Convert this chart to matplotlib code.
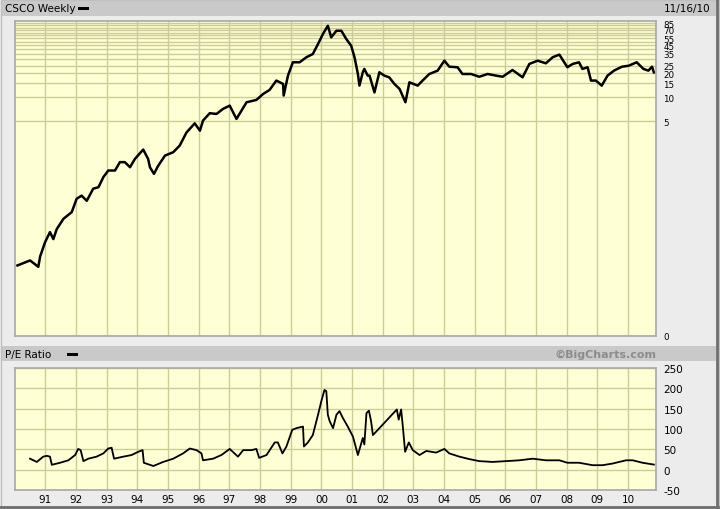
import matplotlib
matplotlib.use("Agg")
import matplotlib.pyplot as plt
from matplotlib.patches import Rectangle
from matplotlib.ticker import NullLocator

W, H = 720, 510

# weekly close (split adjusted)
price_years = [1990.09, 1990.50, 1990.77, 1990.83, 1990.99, 1991.15, 1991.26, 1991.37, 1991.59, 1991.86,
               1992.02, 1992.18, 1992.35, 1992.56, 1992.73, 1992.89, 1993.05, 1993.27, 1993.43, 1993.59,
               1993.76, 1993.92, 1994.19, 1994.35, 1994.41, 1994.54, 1994.68, 1994.90, 1995.17, 1995.38,
               1995.60, 1995.87, 1996.04, 1996.14, 1996.36, 1996.58, 1996.79, 1997.01, 1997.23, 1997.56,
               1997.88, 1998.10, 1998.31, 1998.53, 1998.75, 1998.77, 1998.91, 1999.07, 1999.29, 1999.51,
               1999.72, 1999.89, 2000.05, 2000.21, 2000.32, 2000.49, 2000.65, 2000.81, 2000.97, 2001.08,
               2001.19, 2001.24, 2001.35, 2001.40, 2001.51, 2001.57, 2001.73, 2001.89, 2002.05, 2002.21,
               2002.38, 2002.55, 2002.74, 2002.87, 2003.14, 2003.30, 2003.52, 2003.79, 2004.01, 2004.17,
               2004.44, 2004.60, 2004.88, 2005.15, 2005.42, 2005.69, 2005.91, 2006.23, 2006.56, 2006.78,
               2007.05, 2007.32, 2007.54, 2007.76, 2008.02, 2008.19, 2008.40, 2008.51, 2008.68, 2008.79,
               2008.95, 2009.14, 2009.33, 2009.54, 2009.80, 2010.02, 2010.28, 2010.50, 2010.66, 2010.78,
               2010.84]
price_values = [0.077, 0.089, 0.074, 0.100, 0.151, 0.202, 0.165, 0.220, 0.297, 0.360,
                0.530, 0.580, 0.500, 0.710, 0.740, 0.990, 1.20, 1.20, 1.53, 1.53,
                1.32, 1.68, 2.20, 1.68, 1.32, 1.09, 1.38, 1.85, 2.04, 2.47,
                3.60, 4.70, 3.80, 5.09, 6.30, 6.17, 7.13, 7.85, 5.34, 8.65,
                9.25, 11.0, 12.35, 16.2, 14.7, 10.5, 18.7, 27.5, 27.5, 31.8,
                34.9, 46.7, 62.3, 79.2, 56.6, 68.5, 68.5, 54.0, 44.4, 31.8,
                19.6, 14.0, 20.6, 22.7, 18.7, 18.7, 11.5, 20.6, 18.7, 17.8,
                14.7, 12.7, 8.65, 15.4, 14.0, 16.2, 19.6, 21.6, 28.8, 24.2,
                23.8, 19.6, 19.6, 18.1, 19.6, 18.7, 18.1, 22.0, 17.8, 26.2,
                28.8, 26.7, 31.8, 34.3, 23.8, 26.2, 27.5, 22.7, 23.8, 16.2,
                16.2, 14.0, 18.7, 21.6, 24.2, 24.9, 27.5, 22.7, 21.6, 24.2,
                20.5]

pe_years = [1990.50, 1990.72, 1990.93, 1991.05, 1991.15, 1991.21, 1991.48, 1991.75, 1991.97, 1992.07,
            1992.15, 1992.24, 1992.40, 1992.67, 1992.89, 1993.05, 1993.16, 1993.24, 1993.54, 1993.81,
            1994.03, 1994.17, 1994.21, 1994.52, 1994.84, 1995.17, 1995.49, 1995.71, 1995.93, 1996.09,
            1996.14, 1996.47, 1996.74, 1997.01, 1997.28, 1997.45, 1997.72, 1997.88, 1997.97, 1998.21,
            1998.48, 1998.58, 1998.73, 1998.86, 1999.05, 1999.18, 1999.40, 1999.43, 1999.56, 1999.72,
            1999.89, 2000.00, 2000.10, 2000.16, 2000.21, 2000.27, 2000.38, 2000.49, 2000.59, 2000.70,
            2000.86, 2001.03, 2001.19, 2001.35, 2001.40, 2001.47, 2001.55, 2001.62, 2001.68, 2002.46,
            2002.52, 2002.60, 2002.65, 2002.69, 2002.73, 2002.85, 2002.98, 2003.20, 2003.42, 2003.74,
            2004.01, 2004.17, 2004.50, 2004.82, 2005.15, 2005.58, 2006.02, 2006.45, 2006.89, 2007.32,
            2007.76, 2008.02, 2008.40, 2008.84, 2009.17, 2009.49, 2009.93, 2010.15, 2010.47, 2010.84]
pe_values = [27, 19, 32, 34, 32, 12, 17, 23, 36, 51,
             48, 21, 27, 32, 40, 52, 54, 27, 32, 36,
             44, 48, 17, 9, 19, 27, 40, 52, 48, 40,
             23, 27, 36, 51, 32, 48, 48, 51, 29, 36,
             67, 67, 40, 57, 98, 102, 106, 57, 67, 85,
             135, 169, 196, 193, 135, 119, 102, 135, 144, 127,
             106, 81, 36, 78, 62, 139, 145, 119, 85, 148,
             123, 148, 110, 77, 44, 67, 48, 36, 46, 42,
             51, 40, 32, 26, 21, 19, 21, 23, 27, 23,
             23, 17, 17, 11, 11, 15, 23, 23, 17, 12.5]

year_ticks = [1991, 1992, 1993, 1994, 1995, 1996, 1997, 1998, 1999, 2000,
              2001, 2002, 2003, 2004, 2005, 2006, 2007, 2008, 2009, 2010]
year_labels = ["91", "92", "93", "94", "95", "96", "97", "98", "99", "00",
               "01", "02", "03", "04", "05", "06", "07", "08", "09", "10"]

price_grid = [5, 10, 15, 20, 25, 30, 35, 40, 45, 50, 55, 60, 65, 70, 75, 80, 85]
price_labels = {85: "85", 70: "70", 55: "55", 45: "45", 35: "35", 25: "25",
                20: "20", 15: "15", 10: "10", 5: "5", 0.01: "0"}
pe_ticks = [-50, 0, 50, 100, 150, 200, 250]
pe_labels = ["-50", "0", "50", "100", "150", "200", "250"]

BG = "#ececec"
BAR = "#c9c9c9"
PLOT = "#ffffd6"
GRID = "#cccc99"
FS = 7.5


def fx(px):
    return px / W


def fy(py):
    return 1 - py / H


fig = plt.figure(figsize=(W / 100, H / 100), dpi=100)
fig.patch.set_facecolor(BG)

# header bars
fig.add_artist(Rectangle((fx(2), fy(17)), fx(714), 15 / H, transform=fig.transFigure,
                         facecolor=BAR, edgecolor="none"))
fig.add_artist(Rectangle((fx(2), fy(362)), fx(714), 15 / H, transform=fig.transFigure,
                         facecolor=BAR, edgecolor="none"))
# outer frame
fig.add_artist(Rectangle((fx(0.5), fy(509.5)), fx(718), 508.5 / H, transform=fig.transFigure,
                         facecolor="none", edgecolor="#c0c0c0", lw=1))
fig.add_artist(plt.Line2D([fx(717), fx(717)], [fy(0), fy(508)], transform=fig.transFigure,
                          color="#6e6e6e", lw=2))
fig.add_artist(plt.Line2D([fx(0), fx(718)], [fy(508), fy(508)], transform=fig.transFigure,
                          color="#6e6e6e", lw=2))

fig.text(fx(5), fy(9), "CSCO Weekly", fontsize=FS, va="center", ha="left")
fig.add_artist(Rectangle((fx(78), fy(10.5)), 11 / W, 3 / H, transform=fig.transFigure,
                         facecolor="black", edgecolor="none"))
fig.text(fx(710), fy(9), "11/16/10", fontsize=FS, va="center", ha="right")

fig.text(fx(5), fy(355), "P/E Ratio", fontsize=FS, va="center", ha="left")
fig.add_artist(Rectangle((fx(67), fy(356.5)), 11 / W, 3 / H, transform=fig.transFigure,
                         facecolor="black", edgecolor="none"))
fig.text(fx(656), fy(355), "\u00a9BigCharts.com", fontsize=8, fontweight="bold",
         color="#8c8c8c", va="center", ha="right")

left, right = 14.7, 655.7
ax1 = fig.add_axes([fx(left), fy(337), (right - left) / W, (337 - 22.3) / H])
ax2 = fig.add_axes([fx(left), fy(491), (right - left) / W, (491 - 369) / H])

for ax in (ax1, ax2):
    ax.set_facecolor(PLOT)
    ax.set_xlim(1990.0, 2010.9)
    ax.set_xticks(year_ticks)
    ax.grid(True, color=GRID, lw=1)
    ax.set_axisbelow(True)
    ax.yaxis.tick_right()
    ax.tick_params(length=0, labelsize=FS, pad=5.5)
    for s in ax.spines.values():
        s.set_color("#a8a8a8")
        s.set_linewidth(1.2)

# price panel
ax1.plot(price_years, price_values, color="black", lw=1.8)
ax1.set_yscale("log")
ax1.set_ylim(0.01, 90)
ticks = price_grid + [0.01]
ax1.set_yticks(ticks)
ax1.set_yticklabels([price_labels.get(t, "") for t in ticks])
ax1.yaxis.set_minor_locator(NullLocator())
ax1.tick_params(axis="x", labelbottom=False)
ax1.tick_params(axis="y", labelsize=6.3)

# P/E panel
ax2.plot(pe_years, pe_values, color="black", lw=1.3)
ax2.set_ylim(-50, 250)
ax2.set_yticks(pe_ticks)
ax2.set_yticklabels(pe_labels)
ax2.set_xticklabels(year_labels)
ax2.tick_params(axis="x", pad=3)

fig.savefig("out.png", dpi=100, facecolor=fig.get_facecolor())
